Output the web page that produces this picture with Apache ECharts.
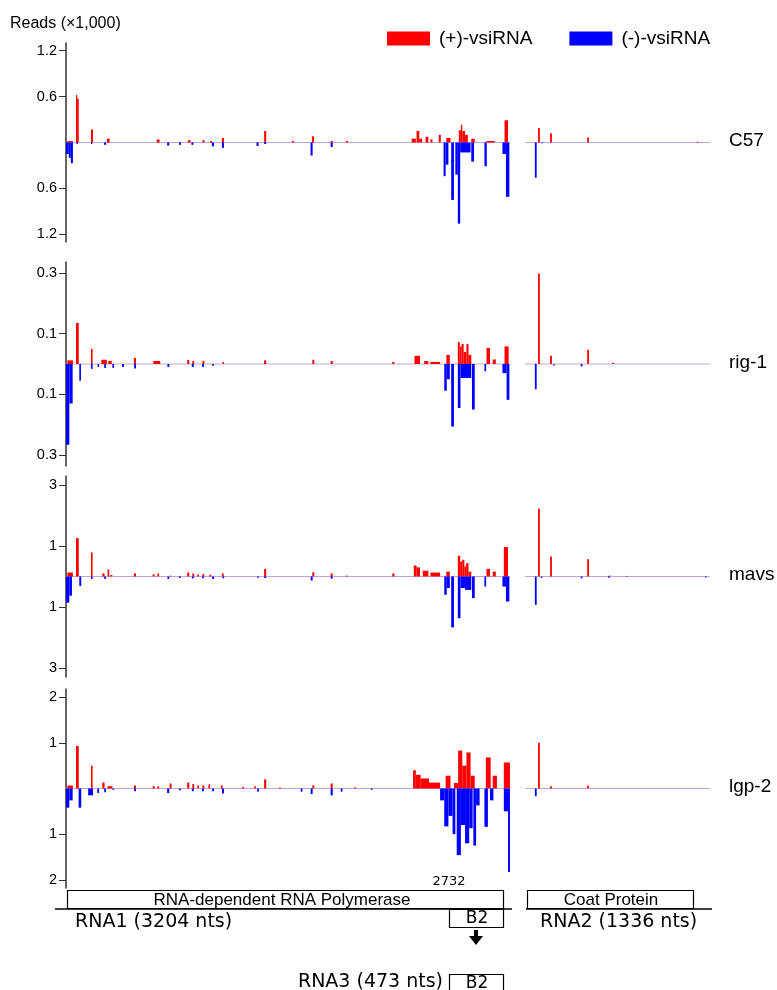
<!DOCTYPE html>
<html><head><meta charset="utf-8">
<script src="https://cdn.jsdelivr.net/npm/echarts@6/dist/echarts.min.js"></script>
<style>html,body{margin:0;padding:0;background:#fff}#c{width:777px;height:990px}</style>
</head><body><div id="c"></div>
<script>
// Genome lengths (nt)
const RNA1_LEN = 3204;
const RNA2_LEN = 1336;
const panelNames = ['C57', 'rig-1', 'mavs', 'lgp-2'];
const tickValues = [[0.6, 1.2], [0.1, 0.3], [1, 3], [1, 2]];
const axisMax = [1.3, 0.336, 3.3, 2.18];

// Peaks: [start nt, end nt, reads (x1000)]
const c57PlusRNA1 = [[10,50,0.02],[72,80,0.62],[80,92,0.57],[180,195,0.17],[295,315,0.05],[655,675,0.04],[880,900,0.03],[985,1000,0.03],[1040,1055,0.02],[1125,1140,0.06],[1430,1445,0.15],[1630,1645,0.02],[1775,1790,0.08],[1910,1925,0.02],[2020,2035,0.02],[2495,2525,0.05],[2530,2550,0.15],[2550,2570,0.05],[2595,2615,0.075],[2630,2645,0.04],[2690,2705,0.1],[2745,2775,0.06],[2835,2850,0.16],[2850,2860,0.23],[2860,2880,0.15],[2880,2900,0.1],[2925,2950,0.05],[3035,3095,0.02],[3165,3190,0.29]];
const c57PlusRNA2 = [[95,108,0.19],[182,195,0.12],[450,463,0.066],[1240,1255,0.01]];
const c57MinusRNA1 = [[0,20,0.15],[20,35,0.2],[35,50,0.27],[75,85,0.02],[180,190,0.02],[275,290,0.03],[730,745,0.04],[815,830,0.03],[905,920,0.03],[1052,1068,0.05],[1125,1140,0.07],[1375,1390,0.045],[1430,1445,0.02],[1765,1780,0.17],[1910,1925,0.06],[2725,2740,0.44],[2740,2760,0.29],[2780,2800,0.75],[2810,2828,0.42],[2828,2845,1.06],[2845,2920,0.13],[2925,2945,0.25],[3020,3037,0.31],[3150,3175,0.15],[3175,3200,0.71]];
const c57MinusRNA2 = [[72,85,0.46],[120,130,0.01]];

const rig1PlusRNA1 = [[10,50,0.012],[72,92,0.135],[180,192,0.05],[255,295,0.014],[305,330,0.01],[490,505,0.02],[630,680,0.01],[875,890,0.013],[912,925,0.01],[985,998,0.01],[1130,1140,0.007],[1430,1445,0.012],[1778,1792,0.014],[1910,1925,0.01],[2355,2370,0.007],[2515,2555,0.027],[2585,2615,0.01],[2630,2700,0.007],[2745,2770,0.03],[2828,2842,0.072],[2842,2855,0.058],[2855,2870,0.066],[2870,2890,0.04],[2890,2905,0.066],[2905,2925,0.03],[3035,3060,0.053],[3080,3102,0.015],[3165,3195,0.058]];
const rig1PlusRNA2 = [[95,108,0.298],[182,195,0.027],[450,463,0.047],[630,645,0.004]];
const rig1MinusRNA1 = [[0,24,0.266],[24,48,0.13],[96,108,0.055],[180,192,0.016],[228,238,0.01],[276,288,0.013],[335,347,0.013],[405,418,0.01],[492,505,0.015],[732,745,0.01],[908,922,0.01],[982,995,0.01],[1055,1068,0.006],[2730,2748,0.088],[2748,2770,0.05],[2780,2800,0.206],[2828,2847,0.145],[2847,2925,0.046],[2930,2950,0.15],[3020,3032,0.024],[3150,3180,0.03],[3180,3200,0.118]];
const rig1MinusRNA2 = [[72,85,0.083],[205,215,0.005],[403,415,0.008]];

const mavsPlusRNA1 = [[10,50,0.13],[72,92,1.26],[180,192,0.79],[262,278,0.1],[300,312,0.23],[320,335,0.05],[490,505,0.1],[625,640,0.07],[660,672,0.1],[750,760,0.03],[875,890,0.13],[912,925,0.1],[948,960,0.07],[985,998,0.08],[1035,1048,0.06],[1125,1138,0.1],[1430,1445,0.25],[1778,1792,0.14],[1910,1925,0.1],[2020,2032,0.03],[2355,2370,0.1],[2510,2530,0.36],[2530,2555,0.3],[2575,2615,0.19],[2630,2700,0.13],[2745,2770,0.16],[2828,2845,0.68],[2845,2860,0.49],[2860,2875,0.55],[2875,2888,0.33],[2888,2905,0.44],[2905,2925,0.16],[3035,3060,0.25],[3080,3102,0.16],[3160,3190,0.97]];
const mavsPlusRNA2 = [[95,108,2.23],[182,195,0.66],[450,463,0.57],[606,618,0.03],[728,740,0.02]];
const mavsMinusRNA1 = [[0,24,0.86],[24,43,0.63],[96,110,0.31],[180,192,0.08],[276,288,0.08],[732,745,0.08],[815,828,0.05],[908,922,0.06],[982,995,0.06],[1055,1068,0.08],[1130,1142,0.06],[1380,1392,0.04],[1430,1445,0.05],[1766,1780,0.13],[1910,1925,0.07],[2730,2748,0.6],[2748,2770,0.38],[2780,2800,1.67],[2828,2847,1.37],[2847,2880,0.38],[2880,2925,0.44],[2930,2950,0.71],[3020,3032,0.33],[3150,3175,0.33],[3175,3200,0.82]];
const mavsMinusRNA2 = [[72,85,0.93],[115,125,0.05],[403,415,0.06],[600,612,0.04],[1300,1312,0.03]];

const lgp2PlusRNA1 = [[10,50,0.066],[72,92,0.93],[180,192,0.5],[262,278,0.13],[300,335,0.05],[490,505,0.066],[625,640,0.05],[660,672,0.05],[748,762,0.11],[875,890,0.13],[912,925,0.1],[948,960,0.07],[985,998,0.07],[1028,1040,0.09],[1118,1130,0.07],[1272,1285,0.03],[1358,1370,0.05],[1430,1445,0.2],[1538,1550,0.02],[1778,1792,0.07],[1910,1925,0.11],[2080,2092,0.03],[2505,2525,0.4],[2525,2560,0.3],[2560,2620,0.22],[2620,2700,0.13],[2740,2775,0.28],[2800,2830,0.12],[2830,2860,0.83],[2860,2890,0.5],[2890,2920,0.79],[2920,2950,0.28],[3030,3065,0.68],[3080,3110,0.28],[3160,3204,0.57]];
const lgp2PlusRNA2 = [[95,108,1.0],[182,195,0.05],[450,463,0.06]];
const lgp2MinusRNA1 = [[0,24,0.42],[24,48,0.26],[91,110,0.42],[160,195,0.15],[226,238,0.1],[276,288,0.08],[335,347,0.03],[492,505,0.06],[730,745,0.1],[815,828,0.04],[908,922,0.06],[982,995,0.06],[1055,1068,0.06],[1126,1140,0.11],[1380,1392,0.07],[1694,1706,0.07],[1766,1780,0.12],[1910,1925,0.15],[1983,1995,0.07],[2200,2212,0.03],[2700,2730,0.26],[2730,2760,0.83],[2760,2790,0.6],[2790,2810,1.0],[2820,2850,1.46],[2850,2880,0.8],[2880,2910,1.2],[2910,2935,0.87],[2940,2960,1.25],[2960,2985,0.37],[3020,3045,0.84],[3060,3085,0.26],[3160,3190,0.5],[3190,3204,1.83]];
const lgp2MinusRNA2 = [[72,85,0.17]];

const plusRNA1 = [c57PlusRNA1, rig1PlusRNA1, mavsPlusRNA1, lgp2PlusRNA1];
const plusRNA2 = [c57PlusRNA2, rig1PlusRNA2, mavsPlusRNA2, lgp2PlusRNA2];
const minusRNA1 = [c57MinusRNA1, rig1MinusRNA1, mavsMinusRNA1, lgp2MinusRNA1];
const minusRNA2 = [c57MinusRNA2, rig1MinusRNA2, mavsMinusRNA2, lgp2MinusRNA2];

const GAP = 108; // visual spacing between RNA1 and RNA2 on the x axis
const OFF = RNA1_LEN + GAP;
const RED = '#ff0000', BLUE = '#0000ff';
const FONT = 'Liberation Sans, Arial, sans-serif';

const gridTops = [43, 262, 476, 689];
const gridHeights = [199, 204, 201, 199];

const chart = echarts.init(document.getElementById('c'), null, {renderer: 'canvas'});

function combine(r1, r2) {
  return r1.map(d => [d[0], d[1], d[2]]).concat(r2.map(d => [d[0] + OFF, d[1] + OFF, d[2]]));
}
function renderPeak(sign, color) {
  return function (params, api) {
    const s = api.value(0), e = api.value(1), v = api.value(2) * sign;
    const p0 = api.coord([s, 0]);
    const p1 = api.coord([e, v]);
    const x = Math.min(p0[0], p1[0]);
    const w = Math.max(Math.abs(p1[0] - p0[0]), 1.3);
    const y = Math.min(p0[1], p1[1]);
    const h = Math.max(Math.abs(p1[1] - p0[1]), 0.8);
    return {type: 'rect', shape: {x: x, y: y, width: w, height: h}, style: {fill: color}};
  };
}

const grids = [], xAxes = [], yAxes = [], series = [], graphics = [];
panelNames.forEach((name, i) => {
  grids.push({left: 66, width: 644, top: gridTops[i], height: gridHeights[i]});
  xAxes.push({type: 'value', gridIndex: i, min: 0, max: OFF + RNA2_LEN, show: false});
  const tv = tickValues[i];
  const cv = [-tv[1], -tv[0], tv[0], tv[1]];
  yAxes.push({
    type: 'value', gridIndex: i, min: -axisMax[i], max: axisMax[i],
    axisLine: {show: true, onZero: false, lineStyle: {color: '#333', width: 1.5}},
    axisTick: {show: true, length: 7, customValues: cv, lineStyle: {color: '#333', width: 1}},
    axisLabel: {show: true, customValues: cv, margin: 9, color: '#000', fontSize: 14.5, fontFamily: FONT,
      formatter: v => String(Math.abs(v))},
    splitLine: {show: false}
  });
  series.push({
    type: 'line', xAxisIndex: i, yAxisIndex: i, silent: true, symbol: 'none',
    data: [[0, 0], [RNA1_LEN, 0], [RNA1_LEN + 1, null], [OFF, 0], [OFF + RNA2_LEN, 0]],
    lineStyle: {color: '#c0a4e0', width: 1}, z: 1
  });
  series.push({
    name: '(+)-vsiRNA', type: 'custom', xAxisIndex: i, yAxisIndex: i,
    renderItem: renderPeak(1, RED), encode: {x: [0, 1], y: 2},
    itemStyle: {color: RED}, data: combine(plusRNA1[i], plusRNA2[i]), z: 2
  });
  series.push({
    name: '(-)-vsiRNA', type: 'custom', xAxisIndex: i, yAxisIndex: i,
    renderItem: renderPeak(-1, BLUE), encode: {x: [0, 1], y: 2},
    itemStyle: {color: BLUE}, data: combine(minusRNA1[i], minusRNA2[i]), z: 2
  });
  graphics.push({type: 'text', left: 729, top: gridTops[i] + gridHeights[i] / 2 - 11,
    style: {text: name, font: '19px ' + FONT, fill: '#000'}});
});

graphics.push({type: 'text', left: 10, top: 16, style: {text: 'Reads (\u00d71,000)', font: '16px ' + FONT, fill: '#000'}});

// Genome organisation diagram
const diag = [
  {type: 'text', x: 449, y: 882, style: {text: '2732', font: '13px DejaVu Sans', fill: '#000', textAlign: 'center', textVerticalAlign: 'middle'}},
  {type: 'polyline', shape: {points: [[449, 906], [449, 895], [460, 895]]}, style: {stroke: '#000', lineWidth: 2, fill: null}},
  {type: 'polygon', shape: {points: [[459, 891], [467, 895], [459, 899]]}, style: {fill: '#000'}},
  {type: 'rect', shape: {x: 67.5, y: 890.5, width: 436, height: 18}, style: {fill: '#fff', stroke: '#000', lineWidth: 1.2}},
  {type: 'text', x: 282, y: 900, style: {text: 'RNA-dependent RNA Polymerase', font: '17px ' + FONT, fill: '#000', textAlign: 'center', textVerticalAlign: 'middle'}},
  {type: 'line', shape: {x1: 55, y1: 909, x2: 512, y2: 909}, style: {stroke: '#000', lineWidth: 1.5}},
  {type: 'rect', shape: {x: 449.5, y: 909.5, width: 54, height: 18}, style: {fill: '#fff', stroke: '#000', lineWidth: 1.2}},
  {type: 'text', x: 477, y: 919, style: {text: 'B2', font: '17px DejaVu Sans', fill: '#000', textAlign: 'center', textVerticalAlign: 'middle'}},
  {type: 'text', left: 75, top: 913, style: {text: 'RNA1 (3204 nts)', font: '19px DejaVu Sans', fill: '#000'}},
  {type: 'rect', shape: {x: 474, y: 930, width: 4, height: 7}, style: {fill: '#000'}},
  {type: 'polygon', shape: {points: [[469, 936], [483, 936], [476, 945]]}, style: {fill: '#000'}},
  {type: 'rect', shape: {x: 449.5, y: 974.5, width: 54, height: 17}, style: {fill: '#fff', stroke: '#000', lineWidth: 1.2}},
  {type: 'text', x: 477, y: 984, style: {text: 'B2', font: '17px DejaVu Sans', fill: '#000', textAlign: 'center', textVerticalAlign: 'middle'}},
  {type: 'text', x: 443, y: 982, style: {text: 'RNA3 (473 nts)', font: '19px DejaVu Sans', fill: '#000', textAlign: 'right', textVerticalAlign: 'middle'}},
  {type: 'rect', shape: {x: 527.5, y: 890.5, width: 166, height: 18}, style: {fill: '#fff', stroke: '#000', lineWidth: 1.2}},
  {type: 'text', x: 611, y: 900, style: {text: 'Coat Protein', font: '17px ' + FONT, fill: '#000', textAlign: 'center', textVerticalAlign: 'middle'}},
  {type: 'line', shape: {x1: 526, y1: 909, x2: 712, y2: 909}, style: {stroke: '#000', lineWidth: 1.5}},
  {type: 'text', left: 540, top: 913, style: {text: 'RNA2 (1336 nts)', font: '19px DejaVu Sans', fill: '#000'}}
];

chart.setOption({
  animation: false,
  backgroundColor: '#fff',
  legend: {
    data: ['(+)-vsiRNA', '(-)-vsiRNA'], left: 382, top: 24, icon: 'rect',
    itemWidth: 43, itemHeight: 14, itemGap: 37,
    textStyle: {fontSize: 19, fontFamily: FONT, color: '#000', padding: [0, 0, 0, 4]}
  },
  grid: grids, xAxis: xAxes, yAxis: yAxes, series: series,
  graphic: graphics.concat(diag)
});
</script></body></html>
